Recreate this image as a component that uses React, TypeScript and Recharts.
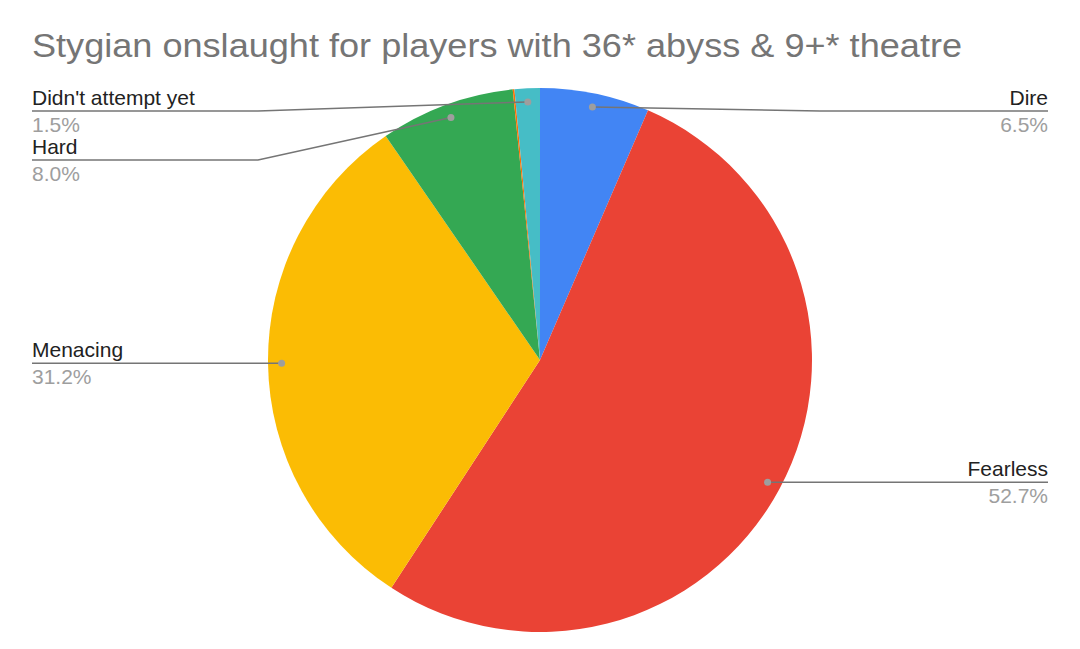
import React from "react";
import { PieChart, Pie, Cell } from "recharts";

const TITLE = "Stygian onslaught for players with 36* abyss & 9+* theatre";
const categories = ["Dire", "Fearless", "Menacing", "Hard", "Other", "Didn't attempt yet"];
const shares = [6.5, 52.7, 31.2, 8.0, 0.1, 1.5];
const colors = ["#4285F4", "#EA4335", "#FBBC04", "#34A853", "#FF6D01", "#46BDC6"];
const labelled = [true, true, true, true, false, true];

const data = categories.map((name, i) => ({ name, value: shares[i] }));

const W = 1080;
const H = 649;
const CX = 540;
const CY = 360;
const R = 272;

type LabelPos = { dotX: number; dotY: number; y: number; side: "left" | "right" };

function computeLayout(cx: number, cy: number, r: number): (LabelPos | null)[] {
  const total = shares.reduce((a, b) => a + b, 0);
  let acc = 0;
  const items = shares.map((v, i) => {
    const a0 = (acc / total) * 360;
    acc += v;
    const a1 = (acc / total) * 360;
    const mid = ((a0 + a1) / 2) * (Math.PI / 180);
    const dotX = cx + r * 0.95 * Math.sin(mid);
    const dotY = cy - r * 0.95 * Math.cos(mid);
    return { i, dotX, dotY, side: (dotX < cx ? "left" : "right") as "left" | "right", y: dotY };
  });
  const out: (LabelPos | null)[] = items.map(() => null);
  const minY = cy - r + 23;
  const gap = 49;
  (["left", "right"] as const).forEach((side) => {
    const group = items.filter((it) => it.side === side && labelled[it.i]).sort((a, b) => a.dotY - b.dotY);
    let prev = -Infinity;
    group.forEach((it) => {
      const y = Math.max(it.dotY, minY, prev + gap);
      prev = y;
      out[it.i] = { dotX: it.dotX, dotY: it.dotY, y, side };
    });
  });
  return out;
}

const renderLabel = (props: any) => {
  const { cx, cy, outerRadius, index } = props;
  const layout = computeLayout(cx, cy, outerRadius);
  const pos = layout[index];
  if (!pos) return null;
  const total = shares.reduce((a, b) => a + b, 0);
  const pct = ((shares[index] / total) * 100).toFixed(1) + "%";
  const left = pos.side === "left";
  const textX = left ? 32 : 1048;
  const elbowX = left ? cx - outerRadius - 10 : cx + outerRadius + 8;
  const pts = `${textX},${pos.y} ${elbowX},${pos.y} ${pos.dotX},${pos.dotY}`;
  return (
    <g key={`lbl-${index}`}>
      <polyline points={pts} fill="none" stroke="#757575" strokeWidth={1.5} />
      <circle cx={pos.dotX} cy={pos.dotY} r={3.5} fill="#9e9e9e" />
      <text
        x={textX}
        y={pos.y - 6}
        textAnchor={left ? "start" : "end"}
        fill="#222222"
        fontSize={21}
        fontFamily="'Liberation Sans', Arial, sans-serif"
      >
        {categories[index]}
      </text>
      <text
        x={textX}
        y={pos.y + 21}
        textAnchor={left ? "start" : "end"}
        fill="#9e9e9e"
        fontSize={21}
        fontFamily="'Liberation Sans', Arial, sans-serif"
      >
        {pct}
      </text>
    </g>
  );
};

export default function App() {
  return (
    <div style={{ position: "absolute", left: 0, top: 0, width: W, height: H, background: "#ffffff" }}>
      <svg width={W} height={70} style={{ position: "absolute", left: 0, top: 0 }}>
        <text
          x={32}
          y={57}
          fill="#757575"
          fontSize={34}
          fontFamily="'Liberation Sans', Arial, sans-serif"
          textLength={930}
          lengthAdjust="spacingAndGlyphs"
        >
          {TITLE}
        </text>
      </svg>
      <div style={{ position: "absolute", left: 0, top: 0 }}>
        <PieChart width={W} height={H} margin={{ top: 0, right: 0, bottom: 0, left: 0 }}>
          <Pie
            data={data}
            dataKey="value"
            nameKey="name"
            cx={CX}
            cy={CY}
            outerRadius={R}
            startAngle={90}
            endAngle={-270}
            stroke="none"
            isAnimationActive={false}
            label={renderLabel}
            labelLine={false}
          >
            {data.map((d, i) => (
              <Cell key={d.name} fill={colors[i]} />
            ))}
          </Pie>
        </PieChart>
      </div>
    </div>
  );
}
